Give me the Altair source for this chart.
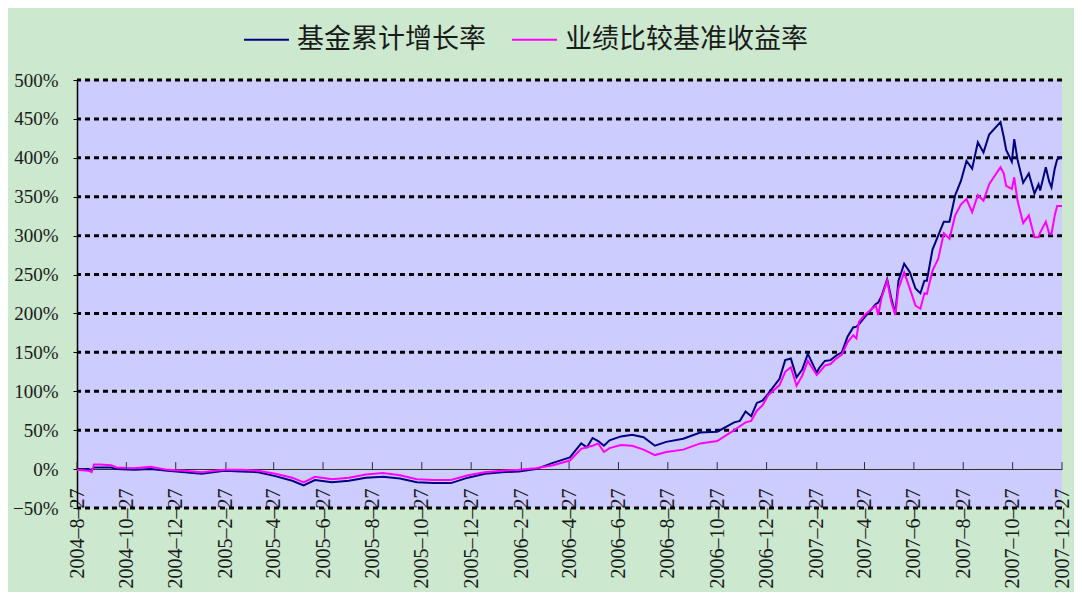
import altair as alt
import pandas as pd

# ---- data ----
DATES = [
    "2004-08-27", "2004-09-10", "2004-09-14", "2004-09-17", "2004-09-24", "2004-10-08", "2004-10-15",
    "2004-11-05", "2004-11-26", "2004-12-17",
    "2005-01-07", "2005-01-28", "2005-02-25", "2005-03-18", "2005-04-08", "2005-04-29", "2005-05-20",
    "2005-06-03", "2005-06-17", "2005-07-08", "2005-07-29", "2005-08-19", "2005-09-09", "2005-09-30",
    "2005-10-21", "2005-11-11", "2005-12-02", "2005-12-23",
    "2006-01-13", "2006-02-03", "2006-02-24", "2006-03-17", "2006-04-07", "2006-04-28", "2006-05-12",
    "2006-05-19", "2006-05-26", "2006-06-02", "2006-06-09", "2006-06-16", "2006-06-30", "2006-07-14",
    "2006-07-28", "2006-08-11", "2006-08-25", "2006-09-15", "2006-10-06", "2006-10-27", "2006-11-17",
    "2006-11-24", "2006-12-01", "2006-12-08", "2006-12-15", "2006-12-22", "2006-12-29",
    "2007-01-12", "2007-01-19", "2007-01-26", "2007-02-02", "2007-02-09", "2007-02-16", "2007-02-27",
    "2007-03-02", "2007-03-09", "2007-03-16", "2007-03-23", "2007-03-30", "2007-04-06", "2007-04-13",
    "2007-04-17", "2007-04-20", "2007-04-27", "2007-05-11", "2007-05-14", "2007-05-18", "2007-05-25",
    "2007-05-30", "2007-06-04", "2007-06-08", "2007-06-15", "2007-06-22", "2007-06-29", "2007-07-05",
    "2007-07-10", "2007-07-13", "2007-07-20", "2007-07-27", "2007-08-03", "2007-08-10", "2007-08-17",
    "2007-08-24", "2007-08-31", "2007-09-07", "2007-09-14", "2007-09-21", "2007-09-28", "2007-10-12",
    "2007-10-16", "2007-10-19", "2007-10-26", "2007-10-29", "2007-11-02", "2007-11-09", "2007-11-16",
    "2007-11-23", "2007-11-28", "2007-11-30", "2007-12-07", "2007-12-11", "2007-12-14", "2007-12-18",
    "2007-12-21", "2007-12-27",
]
FUND = [
    0, 0, -1, 2, 2, 2, 0,
    -1, 0, -2,
    -4, -6, -2, -3, -4, -9, -15,
    -21, -14, -17, -15, -11, -10, -12,
    -17, -18, -18, -11,
    -6, -4, -3, 0, 8, 15, 33,
    28, 40, 36, 30, 37, 42, 44,
    41, 30, 35, 39, 47, 48, 60,
    62, 74, 68, 85, 88, 97,
    116, 140, 142, 118, 128, 148, 124,
    130, 139, 140, 146, 150, 170, 182,
    183, 186, 195, 212, 214, 222, 244,
    220, 200, 242, 264, 253, 232, 226,
    242, 242, 282, 300, 318, 318, 352,
    370, 396, 386, 420, 407, 430, 446,
    427, 410, 395, 424, 398, 368, 380,
    354, 366, 358, 388, 370, 362, 386,
    398, 401,
]
BENCH = [
    -1, -2, -4, 6, 6, 5, 2,
    1, 3, -1,
    -2, -4, -1, -1, -2, -6, -11,
    -17, -10, -13, -11, -7, -5, -8,
    -13, -14, -14, -8,
    -4, -2, -1, 1, 5, 11, 26,
    28, 30, 33, 22, 27, 31, 30,
    25, 18, 22, 25, 33, 36, 50,
    55, 60, 62, 75, 82, 95,
    108, 125, 131, 107, 120, 139, 121,
    124, 133, 135, 142, 147, 163, 172,
    168, 189, 198, 210, 198, 220, 242,
    215, 198, 232, 253, 232, 210, 206,
    226, 225, 255, 270, 303, 296, 326,
    340, 347, 330, 352, 345, 366, 388,
    380, 364, 360, 375, 345, 316, 326,
    298, 298, 304, 318, 303, 302, 326,
    338, 338,
]
SERIES = ["基金累计增长率", "业绩比较基准收益率"]
COLORS = ["#000080", "#FF00FF"]
Y_TICKS = [-50, 0, 50, 100, 150, 200, 250, 300, 350, 400, 450, 500]
X_TICKS = [
    "2004-8-27", "2004-10-27", "2004-12-27", "2005-2-27", "2005-4-27", "2005-6-27", "2005-8-27",
    "2005-10-27", "2005-12-27", "2006-2-27", "2006-4-27", "2006-6-27", "2006-8-27", "2006-10-27",
    "2006-12-27", "2007-2-27", "2007-4-27", "2007-6-27", "2007-8-27", "2007-10-27", "2007-12-27",
]
TICK_LEN = 9  # upward tick length, in % units

# ---- tables ----
n = len(DATES)
df = pd.DataFrame({
    "date": [d.replace("-", "/") for d in DATES] * 2,
    "value": FUND + BENCH,
    "series": [SERIES[0]] * n + [SERIES[1]] * n,
})
grid_df = pd.DataFrame({"value": [v for v in Y_TICKS if v != 0]})
tick_df = pd.DataFrame({
    "date": [d.replace("-", "/") for d in X_TICKS],
    "value": [0] * len(X_TICKS),
    "y1": [TICK_LEN] * len(X_TICKS),
})


def to_dt(s):
    y, m, d = (int(p) for p in s.split("-"))
    return alt.DateTime(year=y, month=m, date=d)


x_scale = alt.Scale(domain=[to_dt(X_TICKS[0]), to_dt(X_TICKS[-1])])
y_scale = alt.Scale(domain=[Y_TICKS[0], Y_TICKS[-1]], nice=False, zero=False)

x_axis = alt.Axis(
    values=[to_dt(s) for s in X_TICKS],
    labelExpr="timeFormat(datum.value, '%Y–%-m–%d')",
    labelAngle=270, labelAlign="right", labelBaseline="middle",
    labelFont="Liberation Serif", labelFontSize=20, labelColor="#1a1a1a",
    labelPadding=19, ticks=False, domainColor="#303030", domainWidth=1,
    offset=-39, grid=False, title=None,
    labelOverlap=False, labelFlush=False, labelBound=False,
)
y_axis = alt.Axis(
    values=Y_TICKS,
    labelExpr="replace(datum.value + '%', '-', '−')",
    labelFont="Liberation Serif", labelFontSize=19, labelColor="#1a1a1a",
    domainColor="black", domainWidth=1.5, tickColor="black", tickSize=4,
    labelPadding=15, grid=False, title=None,
)

X = alt.X("date:T", scale=x_scale, axis=x_axis, title=None)
Y = alt.Y("value:Q", scale=y_scale, axis=y_axis, title=None)

grid = alt.Chart(grid_df).mark_rule(color="black", strokeWidth=3, strokeDash=[5, 4]).encode(
    y=Y,
)

lines = alt.Chart(df).mark_line(strokeWidth=2).encode(
    x=X,
    y=Y,
    color=alt.Color(
        "series:N",
        scale=alt.Scale(domain=SERIES, range=COLORS),
        sort=SERIES,
        legend=alt.Legend(
            orient="none", legendX=166, legendY=-64, direction="horizontal", title=None,
            symbolType="stroke", symbolSize=2025, symbolStrokeWidth=2,
            labelFont="Noto Sans CJK SC", labelFontSize=27, labelColor="#1a1a1a",
            labelLimit=400, labelOffset=7, columnPadding=22, padding=0,
        ),
    ),
    order=alt.Order("date:T"),
)

ticks = alt.Chart(tick_df).mark_rule(color="#303030", strokeWidth=1).encode(
    x=X,
    y=Y,
    y2="y1:Q",
)

chart = alt.layer(grid, lines, ticks).properties(
    width=985,
    height=428,
    autosize="none",
    padding={"left": 69, "top": 72, "right": 12, "bottom": 84},
).configure(
    background="#CCE8CF",
).configure_view(
    fill="#CCCCFF",
    stroke=None,
)

chart.save("out.html", embed_options={"renderer": "svg", "actions": False})
